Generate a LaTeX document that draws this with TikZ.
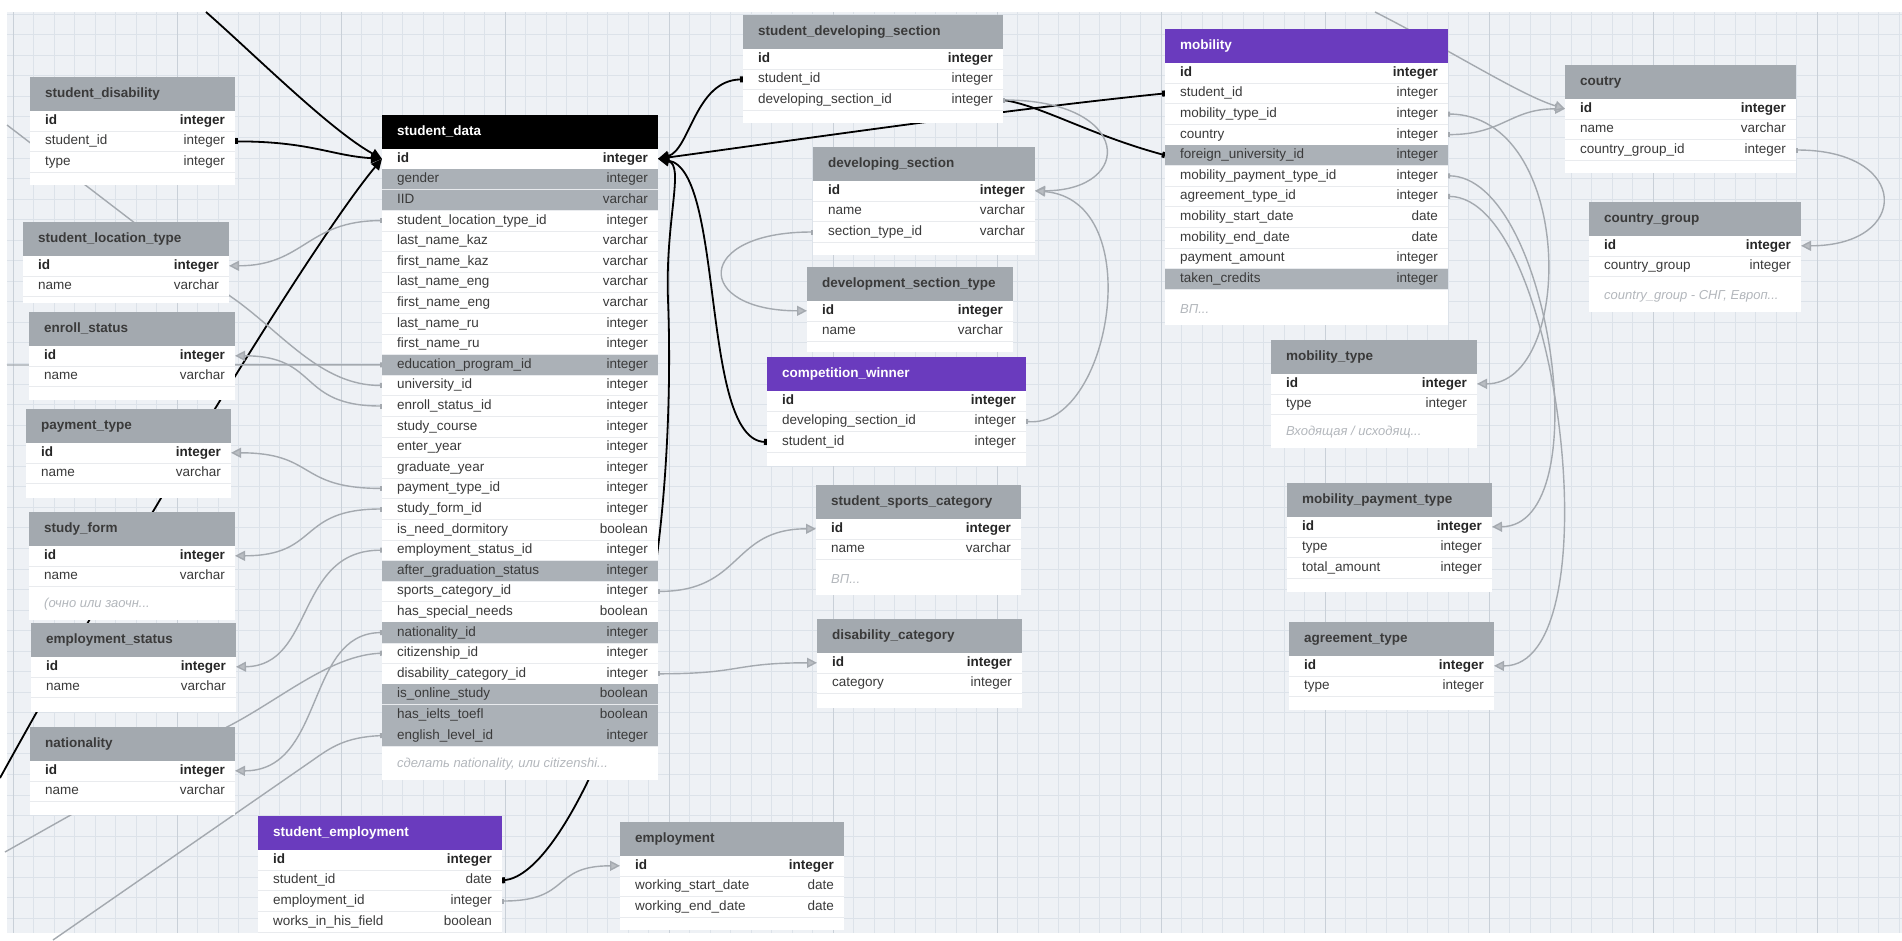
\documentclass[tikz,border=0pt]{standalone}
\usepackage{fontspec}
\setmainfont{Liberation Sans}
\usepackage{tikz}
\usetikzlibrary{calc}
\usetikzlibrary{arrows.meta}

\definecolor{bggray}{HTML}{EEF1F5}
\definecolor{gridgray}{HTML}{DCE2E9}
\definecolor{gridmajor}{HTML}{C9D0D8}
\definecolor{headgray}{HTML}{A3A9AF}
\definecolor{hlgray}{HTML}{ABB1B7}
\definecolor{headpurple}{HTML}{6A3BBE}
\definecolor{linegray}{HTML}{A4A9AF}
\definecolor{tipgray}{HTML}{B9BDC2}
\definecolor{textdark}{HTML}{3A3A3A}
\definecolor{notegray}{HTML}{B3B7BC}
\definecolor{sepgray}{HTML}{E9EBEE}

\pgfdeclarelayer{bgl}
\pgfdeclarelayer{wires}
\pgfsetlayers{bgl,wires,main}

% #1 name, #2 left, #3 top, #4 width, #5 header style, #6 title, #7 fields, #8 bottom, #9 note
\newcommand{\erTable}[9]{%
	\fill[white] (#2,#3) rectangle (#2+#4,#8);
	\node[headbox, #5, minimum width=#4] (#1) at (#2,#3) {};
	\node[headtext, #5] at ($(#1.west)+(15,0)$) {#6};
	\foreach \fname/\ftype/\fkind [count=\i from 0] in {#7} {
		\node[rowbox, row\fkind, minimum width=#4] (#1-\i) at (#2,#3+33.5+\i*20.6) {};
		\draw[rowsep] (#1-\i.south west) -- (#1-\i.south east);
		\node[fieldtext, txt\fkind, anchor=west] at ($(#1-\i.west)+(15,0)$) {\fname};
		\node[fieldtext, txt\fkind, anchor=east] at ($(#1-\i.east)+(-10,0)$) {\ftype};
	}
	\node[notetext] at (#2+15,#8-16) {#9};
}

\begin{document}
\begin{tikzpicture}[x=1pt, y=-1pt]
		\tikzstyle{headbox} = [anchor=north west, minimum height=33.5, inner sep=0pt, outer sep=0pt]
		\tikzstyle{headtext} = [anchor=west, inner sep=0pt, text height=10pt, text depth=3pt, font=\fontsize{13.5}{16}\selectfont\bfseries]
		\tikzstyle{greyhead} = [fill=headgray, text=textdark]
		\tikzstyle{purplehead} = [fill=headpurple, text=white]
		\tikzstyle{blackhead} = [fill=black, text=white]
		\tikzstyle{rowbox} = [anchor=north west, minimum height=20.6, inner sep=0pt, outer sep=0pt]
		\tikzstyle{rowpk} = []
		\tikzstyle{rownf} = []
		\tikzstyle{rowhl} = [fill=hlgray]
		\tikzstyle{rowsep} = [draw=sepgray, line width=0.8pt]
		\tikzstyle{fieldtext} = [inner sep=0pt, text height=10pt, text depth=3pt, text=textdark, font=\fontsize{13.5}{16}\selectfont]
		\tikzstyle{txtpk} = [text=black!85, font=\fontsize{13.5}{16}\selectfont\bfseries]
		\tikzstyle{txtnf} = []
		\tikzstyle{txthl} = []
		\tikzstyle{notetext} = [anchor=west, inner sep=0pt, text=notegray, font=\fontsize{13}{16}\selectfont\itshape]
		\tikzstyle{ref} = [draw=black, line width=1.8pt, arrows={Rectangle[length=3pt,width=6pt]-Triangle[length=11pt,width=10pt]}]
		\tikzstyle{refin} = [draw=black, line width=1.8pt, arrows={-Triangle[length=11pt,width=10pt]}]
		\tikzstyle{refout} = [draw=black, line width=1.8pt, arrows={Rectangle[length=3pt,width=6pt]-}]
		\tikzstyle{fk} = [draw=linegray, line width=1.4pt, arrows={Rectangle[length=2pt,width=5pt]-Triangle[length=10pt,width=10pt,fill=tipgray]}]
		\tikzstyle{fkin} = [draw=linegray, line width=1.4pt, arrows={-Triangle[length=10pt,width=10pt,fill=tipgray]}]
		\tikzstyle{fkout} = [draw=linegray, line width=1.4pt, arrows={Rectangle[length=2pt,width=5pt]-}]
		
		\useasboundingbox (0,0) rectangle (1902,940);
		\begin{pgfonlayer}{bgl}
			\fill[white] (0,0) rectangle (1902,940);
			\fill[bggray] (7,12) rectangle (1902,933);
			\foreach \gx in {13,33.5,...,1902}
				\draw[gridgray, line width=0.7pt] (\gx,12) -- (\gx,933);
			\foreach \gy in {14,34.55,...,933}
				\draw[gridgray, line width=0.7pt] (7,\gy) -- (1902,\gy);
			\foreach \gx in {13,177,...,1902}
				\draw[gridmajor, line width=0.9pt] (\gx,12) -- (\gx,933);
		\end{pgfonlayer}
		
		% left column
		\erTable{sdis}{30}{77}{205}{greyhead}{student\_disability}{id/integer/pk,student\_id/integer/nf,type/integer/nf}{185}{}
		\erTable{slt}{23}{222}{206}{greyhead}{student\_location\_type}{id/integer/pk,name/varchar/nf}{303}{}
		\erTable{es}{29}{312}{206}{greyhead}{enroll\_status}{id/integer/pk,name/varchar/nf}{400}{}
		\erTable{pt}{26}{409}{205}{greyhead}{payment\_type}{id/integer/pk,name/varchar/nf}{498}{}
		\erTable{sf}{29}{512}{206}{greyhead}{study\_form}{id/integer/pk,name/varchar/nf}{620}{(очно или заочн...}
		\erTable{emps}{31}{623}{205}{greyhead}{employment\_status}{id/integer/pk,name/varchar/nf}{712}{}
		\erTable{nat}{30}{727}{205}{greyhead}{nationality}{id/integer/pk,name/varchar/nf}{815}{}
		\erTable{semp}{258}{816}{244}{purplehead}{student\_employment}{id/integer/pk,student\_id/date/nf,employment\_id/integer/nf,works\_in\_his\_field/boolean/nf}{945}{}
		\erTable{emp}{620}{822}{224}{greyhead}{employment}{id/integer/pk,working\_start\_date/date/nf,working\_end\_date/date/nf}{930}{}
		
		% main table
		\erTable{sdata}{382}{115}{276}{blackhead}{student\_data}{id/integer/pk,gender/integer/hl,IID/varchar/hl,%
			student\_location\_type\_id/integer/nf,last\_name\_kaz/varchar/nf,first\_name\_kaz/varchar/nf,%
			last\_name\_eng/varchar/nf,first\_name\_eng/varchar/nf,last\_name\_ru/integer/nf,first\_name\_ru/integer/nf,%
			education\_program\_id/integer/hl,university\_id/integer/nf,enroll\_status\_id/integer/nf,%
			study\_course/integer/nf,enter\_year/integer/nf,graduate\_year/integer/nf,payment\_type\_id/integer/nf,%
			study\_form\_id/integer/nf,is\_need\_dormitory/boolean/nf,employment\_status\_id/integer/nf,%
			after\_graduation\_status/integer/hl,sports\_category\_id/integer/nf,has\_special\_needs/boolean/nf,%
			nationality\_id/integer/hl,citizenship\_id/integer/nf,disability\_category\_id/integer/nf,%
			is\_online\_study/boolean/hl,has\_ielts\_toefl/boolean/hl,english\_level\_id/integer/hl}{780}{сделать nationality, или citizenshi...}
		
		% middle column
		\erTable{sds}{743}{15}{260}{greyhead}{student\_developing\_section}{id/integer/pk,student\_id/integer/nf,developing\_section\_id/integer/nf}{123}{}
		\erTable{ds}{813}{147}{222}{greyhead}{developing\_section}{id/integer/pk,name/varchar/nf,section\_type\_id/varchar/nf}{255}{}
		\erTable{dst}{807}{267}{206}{greyhead}{development\_section\_type}{id/integer/pk,name/varchar/nf}{352}{}
		\erTable{cw}{767}{357}{259}{purplehead}{competition\_winner}{id/integer/pk,developing\_section\_id/integer/nf,student\_id/integer/nf}{466}{}
		\erTable{ssc}{816}{485}{205}{greyhead}{student\_sports\_category}{id/integer/pk,name/varchar/nf}{595}{ВП...}
		\erTable{dc}{817}{619}{205}{greyhead}{disability\_category}{id/integer/pk,category/integer/nf}{708}{}
		
		% mobility part
		\erTable{mob}{1165}{29}{283}{purplehead}{mobility}{id/integer/pk,student\_id/integer/nf,mobility\_type\_id/integer/nf,%
			country/integer/nf,foreign\_university\_id/integer/hl,mobility\_payment\_type\_id/integer/nf,%
			agreement\_type\_id/integer/nf,mobility\_start\_date/date/nf,mobility\_end\_date/date/nf,%
			payment\_amount/integer/nf,taken\_credits/integer/hl}{325}{ВП...}
		\erTable{cty}{1565}{65}{231}{greyhead}{coutry}{id/integer/pk,name/varchar/nf,country\_group\_id/integer/nf}{173}{}
		\erTable{cg}{1589}{202}{212}{greyhead}{country\_group}{id/integer/pk,country\_group/integer/nf}{312}{country\_group - СНГ, Европ...}
		\erTable{mt}{1271}{340}{206}{greyhead}{mobility\_type}{id/integer/pk,type/integer/nf}{448}{Входящая / исходящ...}
		\erTable{mpt}{1287}{483}{205}{greyhead}{mobility\_payment\_type}{id/integer/pk,type/integer/nf,total\_amount/integer/nf}{592}{}
		\erTable{agt}{1289}{622}{205}{greyhead}{agreement\_type}{id/integer/pk,type/integer/nf}{710}{}
		
		% free ends outside the view
		\coordinate (topin) at (206,12);
		\coordinate (leftout) at (0,778);
		\coordinate (epout) at (7,365);
		\coordinate (uniout) at (7,125);
		\coordinate (citout) at (5,852);
		\coordinate (engout) at (53,940);
		\coordinate (ctytop) at (1375,12);
		
		\begin{pgfonlayer}{wires}
			\draw[ref] (sdis-1.east) .. controls +(75,0) and +(-50,-3) .. (sdata-0.west);
			\draw[refin] (topin) .. controls (255,55) and (330,130) .. (sdata-0.west);
			\draw[refin] (leftout) .. controls (120,560) and (310,245) .. (sdata-0.west);
			\draw[ref] (sds-1.west) .. controls (695,80) and (690,150) .. (sdata-0.east);
			\draw[ref] (mob-1.west) .. controls (1000,110) and (760,145) .. (sdata-0.east);
			\draw[ref] (cw-2.west) .. controls (700,440) and (725,170) .. (sdata-0.east);
			\draw[ref] (semp-1.east) .. controls (560,875) and (630,700) .. (650,600) .. controls (665,520) and (672,400) .. (668,300) .. controls (665,220) and (685,165) .. (sdata-0.east);
			\draw[refout] (mob-4.west) .. controls (1090,135) and (1040,105) .. (sds-2.east);
			
			\draw[fk] (sdata-3.west) .. controls +(-75,0) and +(75,0) .. (slt-0.east);
			\draw[fkout] (sdata-10.west) -- (epout);
			\draw[fkout] (sdata-11.west) .. controls (320,386) and (280,330) .. (230,296) -- (uniout);
			\draw[fk] (sdata-12.west) .. controls +(-85,0) and +(85,0) .. (es-0.east);
			\draw[fk] (sdata-16.west) .. controls +(-85,0) and +(85,0) .. (pt-0.east);
			\draw[fk] (sdata-17.west) .. controls +(-85,0) and +(85,0) .. (sf-0.east);
			\draw[fk] (sdata-19.west) .. controls (295,550) and (315,666) .. (emps-0.east);
			\draw[fk] (sdata-23.west) .. controls (305,633) and (325,771) .. (nat-0.east);
			\draw[fkout] (sdata-24.west) .. controls (330,655) and (280,700) .. (227,727) -- (citout);
			\draw[fkout] (sdata-28.west) .. controls (345,737) and (330,748) .. (313,760) -- (engout);
			\draw[fk] (sdata-21.east) .. controls +(85,0) and +(-85,0) .. (ssc-0.west);
			\draw[fk] (sdata-25.east) .. controls +(85,0) and +(-85,0) .. (dc-0.west);
			\draw[fk] (semp-2.east) .. controls +(70,0) and +(-70,0) .. (emp-0.west);
			
			\draw[fk] (sds-2.east) .. controls +(130,0) and +(100,0) .. (ds-0.east);
			\draw[fk] (ds-2.west) .. controls +(-120,0) and +(-113,0) .. (dst-0.west);
			\draw[fk] (cw-1.east) .. controls (1110,430) and (1150,200) .. (ds-0.east);
			
			\draw[fk] (mob-2.east) .. controls (1575,115) and (1575,384) .. (mt-0.east);
			\draw[fk] (mob-3.east) .. controls +(55,0) and +(-55,0) .. (cty-0.west);
			\draw[fk] (mob-5.east) .. controls (1550,177) and (1600,526) .. (mpt-0.east);
			\draw[fk] (mob-6.east) .. controls (1560,197) and (1615,667) .. (agt-0.east);
			\draw[fk] (cty-2.east) .. controls +(115,0) and +(110,0) .. (cg-0.east);
			\draw[fkin] (ctytop) .. controls (1450,50) and (1520,95) .. (cty-0.west);
		\end{pgfonlayer}
	\end{tikzpicture}
\end{document}
